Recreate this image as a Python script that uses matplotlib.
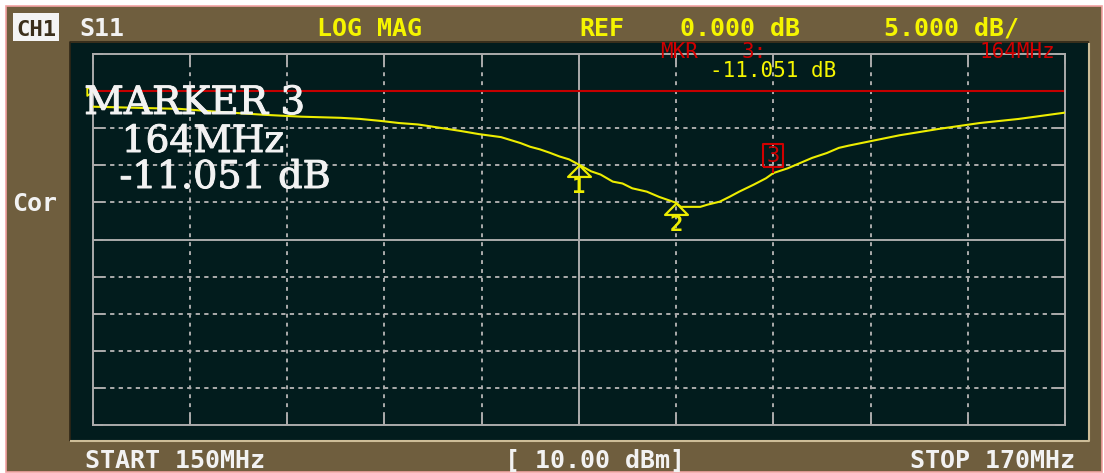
import matplotlib
matplotlib.use("Agg")
import matplotlib.pyplot as plt
import matplotlib.patheffects as pe
from matplotlib.patches import Rectangle
from matplotlib.path import Path

W, H = 1104, 473

# ---------------- data ----------------
freq_mhz = [150.0, 151.8, 152.6, 153.55, 154.3, 155.1, 155.5, 155.9, 156.3, 156.7,
            157.15, 157.55, 157.95, 158.4, 158.6, 158.8, 159.0, 159.2, 159.4, 159.6,
            159.8, 160.0, 160.25, 160.45, 160.7, 160.9, 161.1, 161.4, 161.65, 162.0,
            162.1, 162.5, 162.65, 162.9, 163.1, 163.3, 163.6, 163.85, 164.0, 164.3,
            164.55, 164.8, 165.1, 165.35, 165.55, 166.0, 166.6, 167.4, 168.25, 169.05,
            170.0]
s11_db = [-2.1, -2.4, -2.8, -3.2, -3.45, -3.6, -3.75, -4.0, -4.3, -4.5,
          -4.95, -5.35, -5.8, -6.2, -6.6, -7.0, -7.5, -7.85, -8.3, -8.8,
          -9.2, -9.9, -10.8, -11.25, -12.2, -12.45, -13.1, -13.55, -14.25, -15.05,
          -15.6, -15.6, -15.3, -14.9, -14.25, -13.55, -12.6, -11.75, -11.05, -10.4,
          -9.7, -9.0, -8.35, -7.65, -7.35, -6.75, -5.95, -5.1, -4.3, -3.75,
          -2.9]
marker_freq = [160.0, 162.0, 164.0]
marker_db = [-9.9, -15.05, -11.051]
marker_labels = ["1", "2", "3"]
freq_ticks = [150, 152, 154, 156, 158, 160, 162, 164, 166, 168, 170]
db_ticks = [5, 0, -5, -10, -15, -20, -25, -30, -35, -40, -45]
ref_db = 0.0

# ---------------- colours ----------------
BROWN = "#6F5E3E"
DARK = "#021C1D"
GRID = "#ABABAB"
YELLOW = "#EDED00"
HYELLOW = "#F5F500"
RED = "#D00000"
WHITE = "#F2F2F2"
MONO = "DejaVu Sans Mono"
SERIF = "DejaVu Serif"

fig = plt.figure(figsize=(W / 100, H / 100), dpi=100, facecolor="white")

# background panel (pixel coordinates)
bg = fig.add_axes([0, 0, 1, 1], zorder=0)
bg.set_xlim(0, W)
bg.set_ylim(H, 0)
bg.axis("off")
bg.add_patch(Rectangle((5.5, 6.5), 1096, 465, facecolor=BROWN, edgecolor="#F2A2A2", lw=1.2))
bg.add_patch(Rectangle((70, 43), 1019, 398, facecolor=DARK, edgecolor="none"))
bg.plot([69.5, 69.5, 1089], [441, 42.5, 42.5], color="#2F2616", lw=1.2, solid_capstyle="butt")
bg.plot([70, 1089, 1089], [441.2, 441.2, 43], color="#CDBD98", lw=1.5, solid_capstyle="butt")

# CH1 box
bg.add_patch(Rectangle((12.5, 13.5), 46.5, 27.5, facecolor="#F4F4F4", edgecolor="none"))

# ---------------- grid axes ----------------
ax = fig.add_axes([92.5 / W, 1 - 425 / H, 972.5 / W, 371 / H], zorder=2)
ax.set_facecolor("none")
ax.set_xlim(freq_ticks[0], freq_ticks[-1])
ax.set_ylim(db_ticks[-1], db_ticks[0])
ax.set_xticks(freq_ticks)
ax.set_yticks(db_ticks)
ax.tick_params(direction="in", length=7, width=1.4, color=GRID, top=True, right=True,
               labelbottom=False, labelleft=False)
for s in ax.spines.values():
    s.set_color(GRID)
    s.set_linewidth(1.4)

cx = (freq_ticks[0] + freq_ticks[-1]) / 2
cy = (db_ticks[0] + db_ticks[-1]) / 2
for f in freq_ticks[1:-1]:
    if f == cx:
        ax.axvline(f, color=GRID, lw=1.4, zorder=1)
    else:
        ax.axvline(f, color=GRID, lw=1.4, dashes=(2.0, 2.6), zorder=1)
for d in db_ticks[1:-1]:
    if d == cy:
        ax.axhline(d, color=GRID, lw=1.4, zorder=1)
    else:
        ax.axhline(d, color=GRID, lw=1.4, dashes=(2.2, 2.2), zorder=1)

# reference line
ax.axhline(ref_db, color="#C40000", lw=1.5, zorder=2)

# trace
ax.plot(freq_mhz, s11_db, color=YELLOW, lw=1.5, zorder=3)

# reference position indicator
ref_tri = Path([(0, 0), (-1, 0.7), (-1, -0.7), (0, 0)])
ax.plot([freq_ticks[0]], [ref_db], marker=ref_tri, ms=9, mfc="none", mec=YELLOW,
        mew=1.3, ls="none", clip_on=False, zorder=4)

# markers 1, 2 (triangles with tip on trace)
tri = Path([(0, 0), (1, -1), (-1, -1), (0, 0)])
ax.plot(marker_freq[:2], marker_db[:2], marker=tri, ms=16.5, mfc="none", mec=YELLOW,
        mew=1.6, ls="none", zorder=5)
for f, d, lab in zip(marker_freq[:2], marker_db[:2], marker_labels[:2]):
    ax.annotate(lab, (f, d), xytext=(0, -22), textcoords="offset pixels",
                ha="center", va="center", color=YELLOW, fontsize=16,
                family=MONO, weight="bold", zorder=5)

# active marker 3 (box above trace)
box = Path([(0, 0), (0, 5.5), (-10, 5.5), (10, 5.5), (10, 29), (-10, 29), (-10, 5.5)],
           [Path.MOVETO, Path.LINETO, Path.MOVETO, Path.LINETO, Path.LINETO,
            Path.LINETO, Path.LINETO])
ax.plot([marker_freq[2]], [marker_db[2]], marker=box, ms=41.8, mfc="none", mec=RED,
        mew=1.5, ls="none", zorder=5)
ax.annotate(marker_labels[2], (marker_freq[2], marker_db[2]), xytext=(0, 17.5),
            textcoords="offset pixels", ha="center", va="center", color=RED,
            fontsize=16, family=MONO, zorder=6)

# ---------------- overlay texts ----------------
ov = fig.add_axes([0, 0, 1, 1], zorder=5)
ov.set_xlim(0, W)
ov.set_ylim(H, 0)
ov.axis("off")

hdr = dict(family=MONO, weight="bold", fontsize=18, va="baseline")
ov.text(36, 36, "CH1", color="#3B2F1B", ha="center", family=MONO, weight="bold",
        fontsize=16, va="baseline")
ov.text(102, 36, "S11", color=WHITE, ha="center", **hdr)
ov.text(369.5, 36, "LOG MAG", color=HYELLOW, ha="center", **hdr)
ov.text(602, 36, "REF", color=HYELLOW, ha="center", **hdr)
ov.text(740, 36, "0.000 dB", color=HYELLOW, ha="center", **hdr)
ov.text(951, 36, "5.000 dB/", color=HYELLOW, ha="center", **hdr)

ov.text(12, 211, "Cor", color=WHITE, ha="left", **hdr)

ov.text(175, 468, "START 150MHz", color=WHITE, ha="center", **hdr)
ov.text(595, 468, "[ 10.00 dBm]", color=WHITE, ha="center", **hdr)
ov.text(993, 468, "STOP 170MHz", color=WHITE, ha="center", **hdr)

# marker readout (top)
small = dict(family=MONO, fontsize=15, va="baseline", ha="center")
ov.text(679, 58, "MKR", color=RED, **small)
ov.text(754, 58, "3:", color=RED, **small)
ov.text(1017, 58, "164MHz", color=RED, **small)
ov.text(773, 77, "-11.051 dB", color=HYELLOW, **small)

# big marker readout
thick = [pe.withStroke(linewidth=0.7, foreground=WHITE)]
big = dict(family=SERIF, color=WHITE, va="baseline", ha="center", path_effects=thick)
ov.text(194.5, 114, "MARKER 3", fontsize=28, **big)
ov.text(203, 152, "164MHz", fontsize=27, **big)
ov.text(225, 188, "-11.051 dB", fontsize=27.5, **big)

fig.savefig("out.png", dpi=100, facecolor="white")
